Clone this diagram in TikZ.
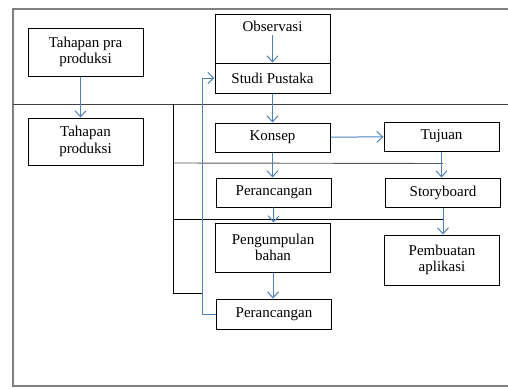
\documentclass[tikz,border=0pt]{standalone}
\usepackage{fontspec}
\setmainfont{Liberation Serif}
\usepackage{tikz}
\usetikzlibrary{positioning,arrows.meta}

\definecolor{flowblue}{RGB}{79,129,189}
\definecolor{framegray}{RGB}{128,128,128}

\begin{document}
\begin{tikzpicture}[x=1pt, y=-1pt,
    box/.style={draw, rectangle, line width=1pt, minimum width=115pt, inner sep=2pt, align=center, font=\fontsize{15}{16.5}\selectfont},
    flow/.style={draw=flowblue, line width=1pt, -{Straight Barb[length=6pt,width=11pt]}},
    divider/.style={line width=0.9pt}]
    \useasboundingbox (0,0) rectangle (508,388);

    \draw[framegray, line width=2.5pt] (508,9) -- (13,9) -- (13,386) -- (508,386);

    \node[box, minimum height=48pt] (pra) at (85.5,52) {Tahapan pra\\produksi};

    \node[box, minimum height=47pt] (produksi) at (85.5,141.5) {Tahapan\\produksi};

    \node[box, minimum height=49pt, label={[name=obstext, anchor=north, yshift=-4pt, font=\fontsize{15}{16.5}\selectfont]north:Observasi}] (observasi) at (272.5,38.5) {};

    \node[box, minimum height=30pt] (studi) at (272.5,78) {Studi Pustaka};

    \node[box, minimum height=29pt] (konsep) at (272.5,137.5) {Konsep};

    \node[box, minimum height=29pt] (tujuan) at (441.5,136.5) {Tujuan};

    \node[box, minimum height=29pt] (rancang) at (274,192.5) {Perancangan};

    \node[box, minimum height=29pt] (storyboard) at (443,192.5) {Storyboard};

    \node[box, minimum height=49pt] (bahan) at (273,247.5) {Pengumpulan\\bahan};

    \node[box, minimum height=50pt] (aplikasi) at (442,260) {Pembuatan\\aplikasi};

    \node[box, minimum height=30pt] (rancangakhir) at (274,314) {Perancangan};

    \draw[divider, black!75] (13,104) -- (508,104);
    \draw[divider] (173,104) -- (173,293) -- (203,293);
    \draw[divider, black!65] (173,163) -- (443,163.5);
    \draw[divider] (173,219) -- (443,219);

    \draw[flow] ([xshift=-5pt]pra.south) -- ([xshift=-5pt]produksi.north);
    \draw[flow] (obstext.south -| studi.north) -- (studi.north);
    \draw[flow] (studi) -- (konsep);
    \draw[flow] (konsep) -- (tujuan);
    \draw[flow] (konsep) -- (rancang.north -| konsep.south);
    \draw[flow] (tujuan) -- (storyboard.north -| tujuan.south);
    \draw[flow] (rancang) -- (bahan);
    \draw[flow] (storyboard) -- (aplikasi.north -| storyboard.south);
    \draw[flow] (bahan) -- (rancangakhir.north -| bahan.south);
    \draw[flow] (rancangakhir.west) -- ([xshift=-14pt]rancangakhir.west) |- (studi.west);
\end{tikzpicture}
\end{document}
